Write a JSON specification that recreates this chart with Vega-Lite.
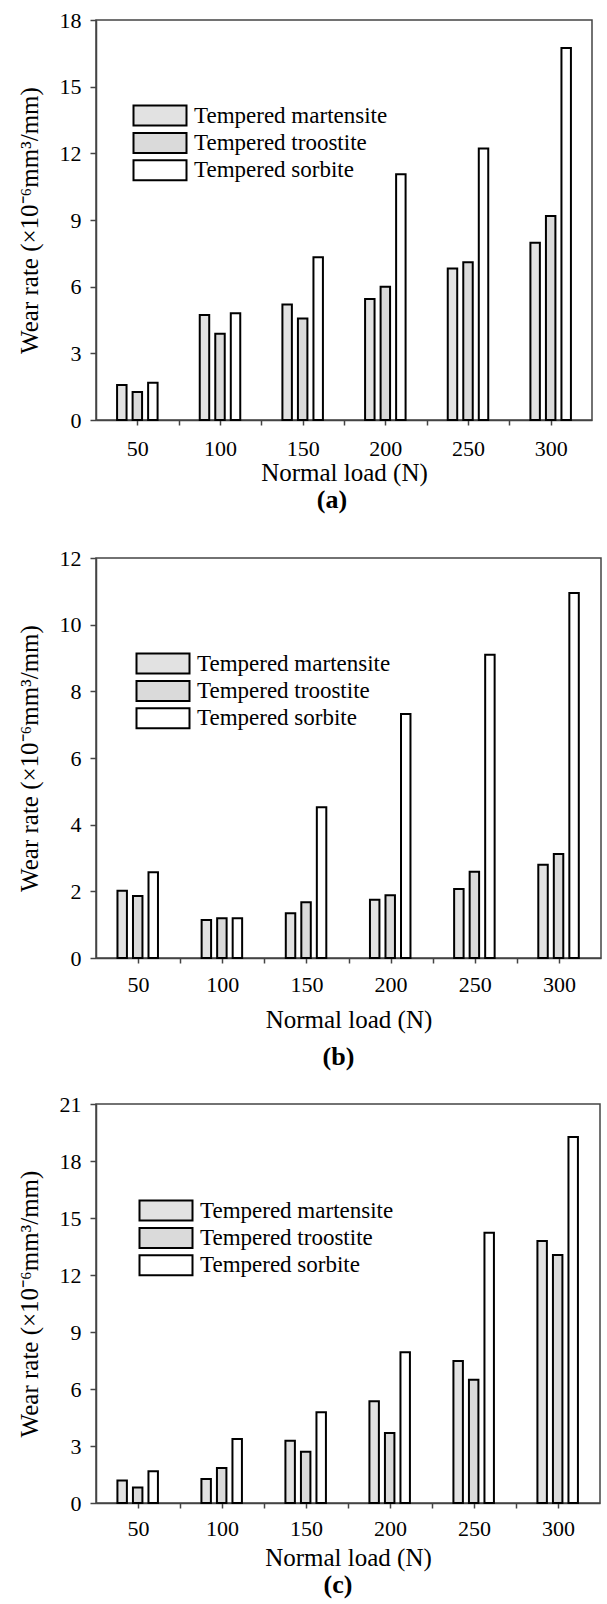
{
  "$schema": "https://vega.github.io/schema/vega-lite/v6.json",
  "background": "white",
  "padding": {"left": 16, "top": 8, "right": 4, "bottom": 0},
  "datasets": {
    "a": [
      {"load": 50, "type": "Tempered martensite", "rate": 1.57},
      {"load": 50, "type": "Tempered troostite", "rate": 1.26},
      {"load": 50, "type": "Tempered sorbite", "rate": 1.68},
      {"load": 100, "type": "Tempered martensite", "rate": 4.72},
      {"load": 100, "type": "Tempered troostite", "rate": 3.88},
      {"load": 100, "type": "Tempered sorbite", "rate": 4.8},
      {"load": 150, "type": "Tempered martensite", "rate": 5.2},
      {"load": 150, "type": "Tempered troostite", "rate": 4.57},
      {"load": 150, "type": "Tempered sorbite", "rate": 7.32},
      {"load": 200, "type": "Tempered martensite", "rate": 5.45},
      {"load": 200, "type": "Tempered troostite", "rate": 6.0},
      {"load": 200, "type": "Tempered sorbite", "rate": 11.06},
      {"load": 250, "type": "Tempered martensite", "rate": 6.82},
      {"load": 250, "type": "Tempered troostite", "rate": 7.1},
      {"load": 250, "type": "Tempered sorbite", "rate": 12.22},
      {"load": 300, "type": "Tempered martensite", "rate": 7.98},
      {"load": 300, "type": "Tempered troostite", "rate": 9.18},
      {"load": 300, "type": "Tempered sorbite", "rate": 16.74}
    ],
    "b": [
      {"load": 50, "type": "Tempered martensite", "rate": 2.02},
      {"load": 50, "type": "Tempered troostite", "rate": 1.86},
      {"load": 50, "type": "Tempered sorbite", "rate": 2.57},
      {"load": 100, "type": "Tempered martensite", "rate": 1.14},
      {"load": 100, "type": "Tempered troostite", "rate": 1.19},
      {"load": 100, "type": "Tempered sorbite", "rate": 1.19},
      {"load": 150, "type": "Tempered martensite", "rate": 1.34},
      {"load": 150, "type": "Tempered troostite", "rate": 1.67},
      {"load": 150, "type": "Tempered sorbite", "rate": 4.52},
      {"load": 200, "type": "Tempered martensite", "rate": 1.75},
      {"load": 200, "type": "Tempered troostite", "rate": 1.88},
      {"load": 200, "type": "Tempered sorbite", "rate": 7.32},
      {"load": 250, "type": "Tempered martensite", "rate": 2.07},
      {"load": 250, "type": "Tempered troostite", "rate": 2.59},
      {"load": 250, "type": "Tempered sorbite", "rate": 9.1},
      {"load": 300, "type": "Tempered martensite", "rate": 2.8},
      {"load": 300, "type": "Tempered troostite", "rate": 3.12},
      {"load": 300, "type": "Tempered sorbite", "rate": 10.95}
    ],
    "c": [
      {"load": 50, "type": "Tempered martensite", "rate": 1.18},
      {"load": 50, "type": "Tempered troostite", "rate": 0.82},
      {"load": 50, "type": "Tempered sorbite", "rate": 1.67},
      {"load": 100, "type": "Tempered martensite", "rate": 1.26},
      {"load": 100, "type": "Tempered troostite", "rate": 1.84},
      {"load": 100, "type": "Tempered sorbite", "rate": 3.37},
      {"load": 150, "type": "Tempered martensite", "rate": 3.28},
      {"load": 150, "type": "Tempered troostite", "rate": 2.7},
      {"load": 150, "type": "Tempered sorbite", "rate": 4.77},
      {"load": 200, "type": "Tempered martensite", "rate": 5.35},
      {"load": 200, "type": "Tempered troostite", "rate": 3.68},
      {"load": 200, "type": "Tempered sorbite", "rate": 7.93},
      {"load": 250, "type": "Tempered martensite", "rate": 7.47},
      {"load": 250, "type": "Tempered troostite", "rate": 6.49},
      {"load": 250, "type": "Tempered sorbite", "rate": 14.22},
      {"load": 300, "type": "Tempered martensite", "rate": 13.79},
      {"load": 300, "type": "Tempered troostite", "rate": 13.05},
      {"load": 300, "type": "Tempered sorbite", "rate": 19.26}
    ]
  },
  "vconcat": [
    {
      "width": 496, "height": 400,
      "data": {"name": "a"},
      "title": {"text": "(a)", "dx": -12, "offset": 2},
      "layer": [
        {
          "mark": {"type": "bar", "stroke": "black", "strokeWidth": 2, "cornerRadius": 0},
          "encoding": {
            "x": {"field": "load", "type": "ordinal", "axis": null, "scale": {"type": "band", "paddingInner": 0.51, "paddingOuter": 0.255}},
            "xOffset": {"field": "type", "type": "nominal", "sort": ["Tempered martensite", "Tempered troostite", "Tempered sorbite"], "scale": {"paddingInner": 0.39, "paddingOuter": 0}},
            "y": {"field": "rate", "type": "quantitative", "scale": {"domain": [0, 18], "nice": false},
              "axis": {"title": "Wear rate (×10⁻⁶mm³/mm)", "values": [0, 1.5, 3, 4.5, 6, 7.5, 9, 10.5, 12, 13.5, 15, 16.5, 18],
                "labelExpr": "datum.value % 3 === 0 ? datum.label : ''", "tickSize": 6, "labelPadding": 9, "titlePadding": 17,
                "encode": {"ticks": {"update": {"x2": {"signal": "datum.value % 3 === 0 ? -6 : -3"}}}}}},
            "fill": {"field": "type", "type": "nominal", "sort": ["Tempered martensite", "Tempered troostite", "Tempered sorbite"],
              "scale": {"domain": ["Tempered martensite", "Tempered troostite", "Tempered sorbite"], "range": ["#e2e2e2", "#dadada", "#ffffff"]},
              "legend": {"legendX": 52.5, "legendY": 84}}
          }
        },
        {
          "mark": {"type": "point", "opacity": 0},
          "encoding": {
            "x": {"field": "load", "type": "quantitative", "scale": {"domain": [25, 325], "nice": false, "zero": false},
              "axis": {"title": "Normal load (N)", "values": [50, 75, 100, 125, 150, 175, 200, 225, 250, 275, 300],
                "labelExpr": "datum.value % 50 === 0 ? datum.label : ''", "tickSize": 5, "labelPadding": 13, "titlePadding": 1,
                "encode": {"ticks": {"update": {"y2": {"signal": "datum.value % 50 === 0 ? 5 : 3"}}}}}},
            "y": {"field": "rate", "type": "quantitative"}
          }
        }
      ],
      "resolve": {"scale": {"x": "independent"}}
    },
    {
      "vconcat": [
        {
          "width": 505, "height": 400,
          "data": {"name": "b"},
          "title": {"text": "(b)", "dx": -10, "offset": 12},
          "layer": [
            {
              "mark": {"type": "bar", "stroke": "black", "strokeWidth": 2, "cornerRadius": 0},
              "encoding": {
                "x": {"field": "load", "type": "ordinal", "axis": null, "scale": {"type": "band", "paddingInner": 0.51, "paddingOuter": 0.255}},
                "xOffset": {"field": "type", "type": "nominal", "sort": ["Tempered martensite", "Tempered troostite", "Tempered sorbite"], "scale": {"paddingInner": 0.39, "paddingOuter": 0}},
                "y": {"field": "rate", "type": "quantitative", "scale": {"domain": [0, 12], "nice": false},
                  "axis": {"title": "Wear rate (×10⁻⁶mm³/mm)", "values": [0, 1, 2, 3, 4, 5, 6, 7, 8, 9, 10, 11, 12],
                    "labelExpr": "datum.value % 2 === 0 ? datum.label : ''", "tickSize": 6, "labelPadding": 9, "titlePadding": 17,
                    "encode": {"ticks": {"update": {"x2": {"signal": "datum.value % 2 === 0 ? -6 : -3"}}}}}},
                "fill": {"field": "type", "type": "nominal", "sort": ["Tempered martensite", "Tempered troostite", "Tempered sorbite"],
                  "scale": {"domain": ["Tempered martensite", "Tempered troostite", "Tempered sorbite"], "range": ["#e2e2e2", "#dadada", "#ffffff"]},
                  "legend": {"legendX": 55.5, "legendY": 94}}
              }
            },
            {
              "mark": {"type": "point", "opacity": 0},
              "encoding": {
                "x": {"field": "load", "type": "quantitative", "scale": {"domain": [25, 325], "nice": false, "zero": false},
                  "axis": {"title": "Normal load (N)", "values": [50, 75, 100, 125, 150, 175, 200, 225, 250, 275, 300],
                    "labelExpr": "datum.value % 50 === 0 ? datum.label : ''", "tickSize": 5, "labelPadding": 11, "titlePadding": 12,
                    "encode": {"ticks": {"update": {"y2": {"signal": "datum.value % 50 === 0 ? 5 : 3"}}}}}},
                "y": {"field": "rate", "type": "quantitative"}
              }
            }
          ],
          "resolve": {"scale": {"x": "independent"}}
        },
        {
          "width": 504, "height": 399,
          "data": {"name": "c"},
          "title": {"text": "(c)", "dx": -10, "offset": 2},
          "layer": [
            {
              "mark": {"type": "bar", "stroke": "black", "strokeWidth": 2, "cornerRadius": 0},
              "encoding": {
                "x": {"field": "load", "type": "ordinal", "axis": null, "scale": {"type": "band", "paddingInner": 0.51, "paddingOuter": 0.255}},
                "xOffset": {"field": "type", "type": "nominal", "sort": ["Tempered martensite", "Tempered troostite", "Tempered sorbite"], "scale": {"paddingInner": 0.39, "paddingOuter": 0}},
                "y": {"field": "rate", "type": "quantitative", "scale": {"domain": [0, 21], "nice": false},
                  "axis": {"title": "Wear rate (×10⁻⁶mm³/mm)", "values": [0, 1.5, 3, 4.5, 6, 7.5, 9, 10.5, 12, 13.5, 15, 16.5, 18, 19.5, 21],
                    "labelExpr": "datum.value % 3 === 0 ? datum.label : ''", "tickSize": 6, "labelPadding": 9, "titlePadding": 17,
                    "encode": {"ticks": {"update": {"x2": {"signal": "datum.value % 3 === 0 ? -6 : -3"}}}}}},
                "fill": {"field": "type", "type": "nominal", "sort": ["Tempered martensite", "Tempered troostite", "Tempered sorbite"],
                  "scale": {"domain": ["Tempered martensite", "Tempered troostite", "Tempered sorbite"], "range": ["#e2e2e2", "#dadada", "#ffffff"]},
                  "legend": {"legendX": 58.5, "legendY": 95}}
              }
            },
            {
              "mark": {"type": "point", "opacity": 0},
              "encoding": {
                "x": {"field": "load", "type": "quantitative", "scale": {"domain": [25, 325], "nice": false, "zero": false},
                  "axis": {"title": "Normal load (N)", "values": [50, 75, 100, 125, 150, 175, 200, 225, 250, 275, 300],
                    "labelExpr": "datum.value % 50 === 0 ? datum.label : ''", "tickSize": 5, "labelPadding": 10, "titlePadding": 6,
                    "encode": {"ticks": {"update": {"y2": {"signal": "datum.value % 50 === 0 ? 5 : 3"}}}}}},
                "y": {"field": "rate", "type": "quantitative"}
              }
            }
          ],
          "resolve": {"scale": {"x": "independent"}}
        }
      ],
      "spacing": 21,
      "resolve": {"scale": {"fill": "independent"}, "legend": {"fill": "independent"}}
    }
  ],
  "spacing": 32,
  "resolve": {"scale": {"fill": "independent"}, "legend": {"fill": "independent"}},
  "config": {
    "font": "Liberation Serif",
    "view": {"stroke": "#444444", "strokeWidth": 1.5},
    "axis": {"domainColor": "#444444", "domainWidth": 1.5, "tickColor": "#444444", "tickWidth": 1.5, "grid": false,
      "labelColor": "black", "titleColor": "black", "labelFont": "Liberation Serif", "titleFont": "Liberation Serif",
      "labelFontSize": 22, "titleFontSize": 25, "titleFontWeight": "normal"},
    "legend": {"orient": "none", "title": null, "padding": 0, "symbolType": "M-5.3,-2H5.3V2H-5.3Z", "symbolSize": 100,
      "symbolStrokeColor": "black", "symbolStrokeWidth": 2, "symbolOpacity": 1, "labelFont": "Liberation Serif", "labelFontSize": 23,
      "labelColor": "black", "labelOffset": 22.5, "rowPadding": -1.6, "labelLimit": 400},
    "title": {"orient": "bottom", "font": "Liberation Serif", "fontSize": 26, "fontWeight": "bold", "color": "black", "anchor": "middle"}
  }
}
